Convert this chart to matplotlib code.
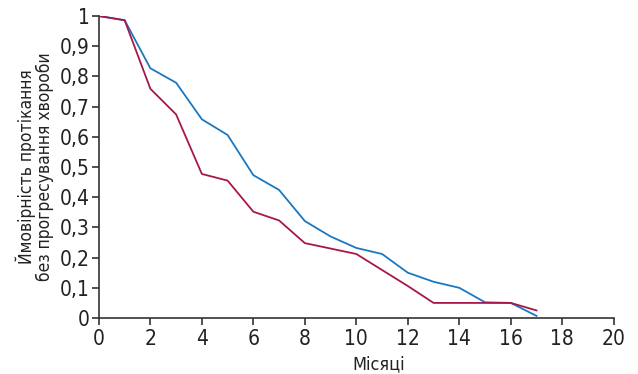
import matplotlib
matplotlib.use("Agg")
import matplotlib.pyplot as plt
from matplotlib.ticker import FuncFormatter

# Months and survival probabilities
months = [0, 1, 2, 3, 4, 5, 6, 7, 8, 9, 10, 11, 12, 13, 14, 15, 16, 17]
blue_vals = [1.0, 0.986, 0.827, 0.779, 0.658, 0.606, 0.473, 0.424, 0.321, 0.27,
             0.232, 0.212, 0.15, 0.12, 0.10, 0.052, 0.05, 0.007]
red_vals = [1.0, 0.986, 0.759, 0.674, 0.477, 0.455, 0.352, 0.323, 0.248, 0.23,
            0.212, 0.159, 0.106, 0.05, 0.05, 0.05, 0.05, 0.025]

x_ticks = list(range(0, 21, 2))
y_ticks = [i / 10 for i in range(11)]

plt.rcParams['font.family'] = ['DejaVu Sans']
plt.rcParams['font.stretch'] = 'condensed'

fig = plt.figure(figsize=(6.38, 3.74), dpi=100)
ax = fig.add_axes([0.155, 0.1497, 0.807, 0.8075])

ax.plot(months, blue_vals, color="#1a78c2", lw=1.3)
ax.plot(months, red_vals, color="#a8174a", lw=1.3)

ax.set_xlim(0, 20)
ax.set_ylim(0, 1)
ax.set_xticks(x_ticks)
ax.set_yticks(y_ticks)
ax.yaxis.set_major_formatter(FuncFormatter(
    lambda v, p: "0" if v == 0 else ("1" if v == 1 else f"{v:.1f}".replace(".", ","))))

for s in ["top", "right"]:
    ax.spines[s].set_visible(False)
for s in ["left", "bottom"]:
    ax.spines[s].set_color("#333333")
    ax.spines[s].set_linewidth(1.2)
ax.tick_params(axis="both", direction="out", length=5, width=1.2,
               color="#333333", labelsize=15, labelcolor="#222222")
ax.tick_params(axis="x", pad=3)
ax.tick_params(axis="y", pad=1.5)

ax.set_xlabel("Місяці", fontsize=13, color="#222222")
ax.xaxis.set_label_coords(0.544, -0.123)
ax.set_ylabel("Ймовірність протікання\nбез прогресування хвороби",
              fontsize=12.5, color="#222222", linespacing=1.0)
ax.yaxis.set_label_coords(-0.087, 0.5)

fig.savefig("out.png", dpi=100)
